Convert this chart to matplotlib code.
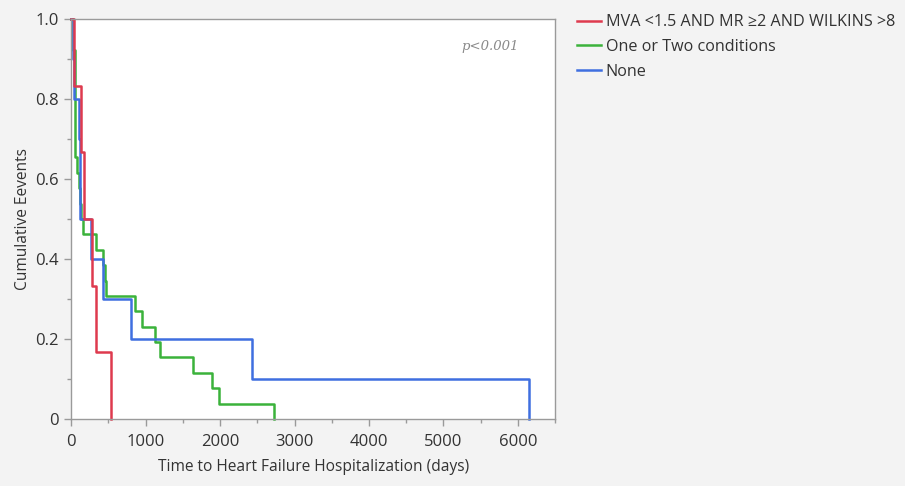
import matplotlib
matplotlib.use("Agg")
import matplotlib.pyplot as plt
from matplotlib.ticker import MultipleLocator, FixedLocator

INK = "#333333"
GRID = "#9a9a9a"
plt.rcParams.update({
    "font.family": ["Open Sans", "DejaVu Sans"],
    "text.color": INK, "axes.labelcolor": INK,
    "xtick.color": GRID, "ytick.color": GRID,
    "xtick.labelcolor": INK, "ytick.labelcolor": INK,
})

# ---- data -----------------------------------------------------------------
red_t = [0, 40, 140, 170, 275, 335, 535]
red_s = [1.0, 0.833, 0.667, 0.5, 0.333, 0.167, 0.0]

green_t = [0, 20, 54, 85, 110, 125, 140, 160, 340, 430, 450, 470,
           860, 950, 1130, 1190, 1636, 1895, 1990, 2728]
green_s = [1.0, 0.923, 0.654, 0.615, 0.577, 0.538, 0.5, 0.462, 0.423, 0.385,
           0.346, 0.308, 0.269, 0.231, 0.192, 0.154, 0.115, 0.077, 0.038, 0.0]

blue_t = [0, 25, 40, 110, 118, 125, 265, 430, 800, 2430, 6146]
blue_s = [1.0, 0.9, 0.8, 0.7, 0.6, 0.5, 0.4, 0.3, 0.2, 0.1, 0.0]

labels = ["MVA <1.5 AND MR \u22652 AND WILKINS >8", "One or Two conditions", "None"]
colors = ["#DE3A4E", "#3BB23B", "#3F6FE0"]

x_ticks = [0, 1000, 2000, 3000, 4000, 5000, 6000]
y_ticks = [0, 0.2, 0.4, 0.6, 0.8, 1.0]
y_ticklabels = ["0", "0.2", "0.4", "0.6", "0.8", "1.0"]

# ---- figure -----------------------------------------------------------------
fig = plt.figure(figsize=(9.05, 4.86), dpi=100, facecolor="#f3f3f3")
ax = fig.add_axes([0.0785, 0.138, 0.535, 0.823])
ax.set_facecolor("white")

lw = 1.8
hg, = ax.step(green_t, green_s, where="post", color=colors[1], lw=lw, clip_on=False)
hb, = ax.step(blue_t, blue_s, where="post", color=colors[2], lw=lw, clip_on=False)
hr, = ax.step(red_t, red_s, where="post", color=colors[0], lw=lw, clip_on=False)

ax.set_xlim(0, 6500)
ax.set_ylim(0, 1.0)
ax.xaxis.set_major_locator(FixedLocator(x_ticks))
ax.xaxis.set_minor_locator(MultipleLocator(500))
ax.yaxis.set_major_locator(FixedLocator(y_ticks))
ax.set_yticklabels(y_ticklabels)
ax.yaxis.set_minor_locator(MultipleLocator(0.1))
ax.tick_params(which="major", direction="out", length=5, width=1, labelsize=12, pad=4)
ax.tick_params(axis="x", which="major", pad=6)
ax.tick_params(which="minor", direction="out", length=3, width=1)
for sp in ax.spines.values():
    sp.set_color(GRID)
    sp.set_linewidth(1)

ax.set_xlabel("Time to Heart Failure Hospitalization (days)", fontsize=11.2, labelpad=6)
ax.set_ylabel("Cumulative Eevents", fontsize=11.2, labelpad=3)

ax.text(0.925, 0.93, "p<0.001", transform=ax.transAxes, ha="right", va="center",
        fontsize=9.5, style="italic", color="#8a8a8a", family="DejaVu Serif")

fig.legend([hr, hg, hb], labels, loc="upper left", bbox_to_anchor=(0.630, 0.984),
           frameon=False, fontsize=11.6, handlelength=1.5, handletextpad=0.3,
           labelspacing=0.55, borderaxespad=0)

fig.savefig("out.png", dpi=100, facecolor=fig.get_facecolor())
